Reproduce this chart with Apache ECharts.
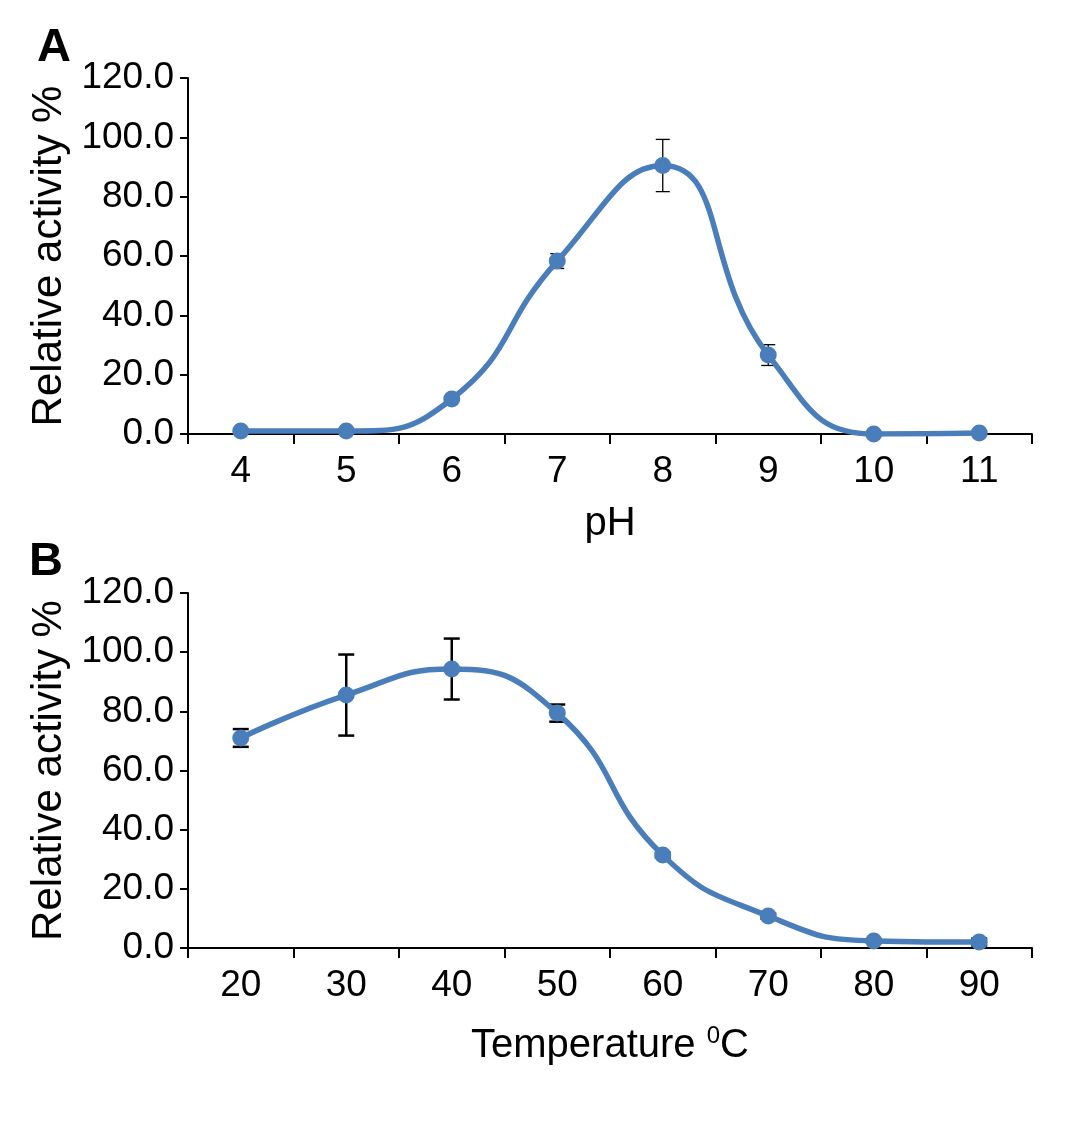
<!DOCTYPE html>
<html><head><meta charset="utf-8">
<script src="https://cdn.jsdelivr.net/npm/echarts@6/dist/echarts.min.js"></script>
<style>html,body{margin:0;padding:0;background:#fff}#c{width:1069px;height:1122px}</style>
</head><body><div id="c"></div>
<script>
const phCats = ['4','5','6','7','8','9','10','11'];
const phValues = [1.0, 1.0, 11.8, 58.3, 90.5, 26.6, 0.0, 0.3];
const phErrors = [0.5, 0.5, 1.0, 2.5, 8.8, 3.5, 0.3, 0.3];
const tempCats = ['20','30','40','50','60','70','80','90'];
const tempValues = [71.0, 85.5, 94.3, 79.4, 31.4, 10.8, 2.4, 2.0];
const tempErrors = [3.0, 13.7, 10.3, 2.9, 0.8, 0.8, 0.6, 1.2];
const yTicks = [0, 20, 40, 60, 80, 100, 120];

const FONT = 'Liberation Sans, Arial, sans-serif';
const BLUE = '#4a7ebb';

function errData(vals, errs){ return vals.map((v,i)=>[i, v-errs[i], v+errs[i]]); }
function errSeries(idx, vals, errs, lw, hw){
  return {
    type:'custom', xAxisIndex:idx, yAxisIndex:idx, z:1,
    data: errData(vals, errs),
    renderItem: function(params, api){
      const lo = api.coord([api.value(0), api.value(1)]);
      const hi = api.coord([api.value(0), api.value(2)]);
      const st = {stroke:'#000', lineWidth:lw};
      return {type:'group', children:[
        {type:'line', shape:{x1:lo[0],y1:lo[1],x2:hi[0],y2:hi[1]}, style:st},
        {type:'line', shape:{x1:lo[0]-hw,y1:lo[1],x2:lo[0]+hw,y2:lo[1]}, style:st},
        {type:'line', shape:{x1:hi[0]-hw,y1:hi[1],x2:hi[0]+hw,y2:hi[1]}, style:st}
      ]};
    }
  };
}
function xAx(idx, cats, name, gap){
  return {
    type:'category', gridIndex:idx, data:cats, boundaryGap:true,
    name:name, nameLocation:'middle', nameGap:gap,
    nameTextStyle:{fontFamily:FONT, fontSize:40, color:'#000',
      rich:{sup:{fontFamily:FONT, fontSize:24, color:'#000', verticalAlign:'top', padding:[0,0,20,0]}}},
    axisLine:{lineStyle:{color:'#000', width:2}},
    axisTick:{show:true, inside:false, length:10, alignWithLabel:false, lineStyle:{color:'#000', width:2}},
    axisLabel:{fontFamily:FONT, fontSize:37, color:'#000', margin:19},
    splitLine:{show:false}
  };
}
function yAx(idx){
  return {
    type:'value', gridIndex:idx, min:yTicks[0], max:yTicks[yTicks.length-1], interval:20,
    name:'Relative activity %', nameLocation:'middle', nameGap:111, nameRotate:90,
    nameTextStyle:{fontFamily:FONT, fontSize:42, color:'#000'},
    axisLine:{show:true, lineStyle:{color:'#000', width:2}},
    axisTick:{show:true, inside:false, length:8, lineStyle:{color:'#000', width:2}},
    axisLabel:{fontFamily:FONT, fontSize:37, color:'#000', margin:14, formatter:v=>v.toFixed(1)},
    splitLine:{show:false}
  };
}
function lineSeries(idx, vals){
  return {type:'line', xAxisIndex:idx, yAxisIndex:idx, data:vals, smooth:0.5, z:3,
    symbol:'circle', symbolSize:17, lineStyle:{color:BLUE, width:5.5},
    itemStyle:{color:BLUE}};
}
const chart = echarts.init(document.getElementById('c'), null, {renderer:'canvas'});
chart.setOption({
  animation:false,
  backgroundColor:'#fff',
  grid:[
    {left:188, right:37, top:78, height:356},
    {left:188, right:37, top:593, height:355}
  ],
  xAxis:[xAx(0, phCats, 'pH', 70), xAx(1, tempCats, 'Temperature {sup|0}C', 76)],
  yAxis:[yAx(0), yAx(1)],
  graphic:[
    {type:'text', left:37, top:25, style:{text:'A', fontFamily:FONT, fontWeight:'bold', fontSize:47, fill:'#000'}},
    {type:'text', left:29, top:539, style:{text:'B', fontFamily:FONT, fontWeight:'bold', fontSize:47, fill:'#000'}}
  ],
  series:[
    errSeries(0, phValues, phErrors, 1.3, 7),
    lineSeries(0, phValues),
    errSeries(1, tempValues, tempErrors, 2.5, 8),
    lineSeries(1, tempValues)
  ]
});
</script></body></html>
